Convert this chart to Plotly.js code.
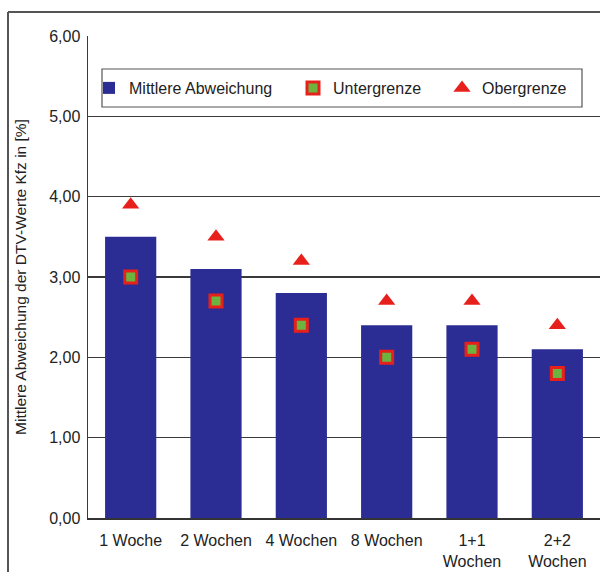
<!DOCTYPE html>
<html>
<head>
<meta charset="utf-8">
<script src="https://cdn.plot.ly/plotly-3.0.1.min.js"></script>
<style>
  html, body { margin: 0; padding: 0; background: #ffffff; }
  #chart { width: 600px; height: 572px; }
</style>
</head>
<body>
<div id="chart"></div>
<script>
const categories = ["1 Woche", "2 Wochen", "4 Wochen", "8 Wochen", "1+1<br>Wochen", "2+2<br>Wochen"];
const mittlereAbweichung = [3.5, 3.1, 2.8, 2.4, 2.4, 2.1];
const untergrenze = [3.0, 2.7, 2.4, 2.0, 2.1, 1.8];
const obergrenze = [3.9, 3.5, 3.2, 2.7, 2.7, 2.4];
const yTicks = [0, 1, 2, 3, 4, 5, 6];

const font = { family: "Liberation Sans, Arial, sans-serif", size: 16, color: "#222222" };
const titleFont = { family: "Liberation Sans, Arial, sans-serif", size: 15.5, color: "#222222" };

const traces = [
  {
    type: "bar", name: "Mittlere Abweichung", x: categories, y: mittlereAbweichung,
    marker: { color: "#2b2d94" }, width: 0.6, legend: "legend"
  },
  {
    type: "scatter", mode: "markers", name: "Untergrenze", x: categories, y: untergrenze,
    marker: { symbol: "square", size: 12, color: "#6cb33f", line: { color: "#e8201c", width: 3 } },
    legend: "legend2"
  },
  {
    type: "scatter", mode: "markers", name: "Obergrenze", x: categories, y: obergrenze,
    marker: { symbol: "triangle-up", size: 15, color: "#e8201c", line: { width: 0 } },
    legend: "legend3"
  }
];

const plotW = 512, plotH = 482, ml = 88, mt = 36;
function px(x) { return (x - ml) / plotW; }
function py(y) { return (mt + plotH - y) / plotH; }

function legendAt(textStart) {
  return {
    x: px(textStart - 40), y: py(88), xanchor: "left", yanchor: "middle",
    bgcolor: "rgba(0,0,0,0)", borderwidth: 0, font: font, orientation: "h"
  };
}

const layout = {
  width: 600, height: 572,
  margin: { l: 88, r: 0, t: 36, b: 54 },
  paper_bgcolor: "#ffffff", plot_bgcolor: "#ffffff",
  font: font,
  separators: ",.",
  showlegend: true,
  legend: legendAt(129),
  legend2: legendAt(333),
  legend3: legendAt(482),
  xaxis: {
    type: "category", showgrid: false, showline: true, linecolor: "#333333", linewidth: 1.5,
    ticks: "", tickfont: font, ticklabelstandoff: 7, fixedrange: true
  },
  yaxis: {
    range: [0, 6], tickvals: yTicks, tickformat: ".2f", showgrid: true, gridcolor: "#3a3a3a",
    gridwidth: 1.5, showline: true, linecolor: "#3a3a3a", linewidth: 1.5, zeroline: false,
    ticks: "", tickfont: font, ticklabelstandoff: 3,
    title: { text: "Mittlere Abweichung der DTV-Werte Kfz in [%]", font: titleFont, standoff: 18 }
  },
  shapes: [
    { type: "line", xref: "paper", yref: "paper", x0: px(8), x1: px(8), y0: py(600), y1: py(12),
      line: { color: "#555555", width: 2 } },
    { type: "line", xref: "paper", yref: "paper", x0: px(8), x1: px(640), y0: py(12), y1: py(12),
      line: { color: "#555555", width: 2 } },
    { type: "rect", xref: "paper", yref: "paper", x0: px(102), x1: px(582), y0: py(107), y1: py(69),
      line: { color: "#555555", width: 1.2 }, fillcolor: "#ffffff", layer: "above" }
  ]
};

Plotly.newPlot("chart", traces, layout, { displayModeBar: false, staticPlot: true });
</script>
</body>
</html>
